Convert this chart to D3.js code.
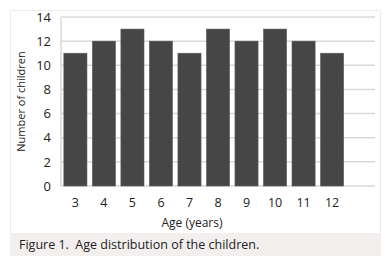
<!DOCTYPE html>
<html>
<head>
<meta charset="utf-8">
<script src="https://cdn.jsdelivr.net/npm/d3@7"></script>
<style>
  body { margin: 0; background: #fff; }
  #graphicContainer { width: 391px; height: 266px; }
  text { font-family: "Open Sans", sans-serif; fill: #222; }
</style>
</head>
<body>
<div id="graphicContainer"></div>
<script>

// data

var ages = ["3", "4", "5", "6", "7", "8", "9", "10", "11", "12"];
var counts = [11, 12, 13, 12, 11, 13, 12, 13, 12, 11];
var yTicks = [0, 2, 4, 6, 8, 10, 12, 14];

function draw_bars() {

		var width = 391, height = 266;
		var margin = {top: 17, right: 16, bottom: 80, left: 61};

		d3.select("#graphicContainer svg").remove();

		var svg = d3.select("#graphicContainer").append("svg")
			.attr("width", width)
			.attr("height", height);

		// card and caption band

		svg.append("rect")
			.attr("x", 10.5).attr("y", 10.5)
			.attr("width", 370).attr("height", 245)
			.attr("fill", "#fff")
			.attr("stroke", "#ececec");

		svg.append("rect")
			.attr("x", 10).attr("y", 233)
			.attr("width", 371).attr("height", 23)
			.attr("fill", "#f3efef");

		// the excel chart leaves one empty slot at the right end

		var x = d3.scaleBand()
			.domain(ages.concat([""]))
			.range([margin.left, width - margin.right])
			.paddingInner(0.19)
			.paddingOuter(0.1);

		var y = d3.scaleLinear()
			.domain([0, 14])
			.range([height - margin.bottom, margin.top]);

		// gridlines

		svg.append("g")
			.selectAll("line")
			.data(yTicks)
			.enter()
			.append("line")
			.attr("x1", margin.left)
			.attr("x2", width - margin.right)
			.attr("y1", d => y(d))
			.attr("y2", d => y(d))
			.attr("stroke", "#d9d9d9")
			.attr("stroke-width", 1.5);

		svg.append("line")
			.attr("x1", margin.left).attr("x2", margin.left)
			.attr("y1", y(14)).attr("y2", y(0))
			.attr("stroke", "#d9d9d9")
			.attr("stroke-width", 1.5);

		// bars

		svg.append("g")
			.selectAll("rect")
			.data(ages)
			.enter()
			.append("rect")
			.attr("x", d => x(d))
			.attr("y", (d, i) => y(counts[i]))
			.attr("width", x.bandwidth())
			.attr("height", (d, i) => y(0) - y(counts[i]))
			.attr("fill", "#464646")
			.attr("stroke", "#5a5a5a")
			.attr("stroke-width", 0.6);

		// axes

		var yAxis = g => g
			.attr("transform", `translate(${margin.left - 6},0)`)
			.call(d3.axisLeft(y).tickValues(yTicks).tickSize(0).tickPadding(4))
			.call(g => g.select(".domain").remove())
			.call(g => g.selectAll("text")
				.attr("font-size", 13)
				.attr("font-family", "'Open Sans', sans-serif")
				.attr("fill", "#222"));

		var xAxis = g => g
			.attr("transform", `translate(0,${y(0) + 5})`)
			.call(d3.axisBottom(x).tickValues(ages).tickSize(0).tickPadding(7))
			.call(g => g.select(".domain").remove())
			.call(g => g.selectAll("text")
				.attr("font-size", 12.5)
				.attr("font-family", "'Open Sans', sans-serif")
				.attr("fill", "#222"));

		svg.append("g").call(yAxis);
		svg.append("g").call(xAxis);

		// axis titles

		svg.append("text")
			.attr("x", 192)
			.attr("y", 227)
			.attr("text-anchor", "middle")
			.attr("font-size", 12)
			.text("Age (years)");

		svg.append("text")
			.attr("transform", `translate(25,${(y(0) + y(14)) / 2}) rotate(-90)`)
			.attr("text-anchor", "middle")
			.attr("font-size", 11)
			.text("Number of children");

		// caption

		svg.append("text")
			.attr("x", 19)
			.attr("y", 248.5)
			.attr("font-size", 12.5)
			.attr("xml:space", "preserve")
			.style("white-space", "pre")
			.text("Figure 1.  Age distribution of the children.");
}

draw_bars();

</script>
</body>
</html>
